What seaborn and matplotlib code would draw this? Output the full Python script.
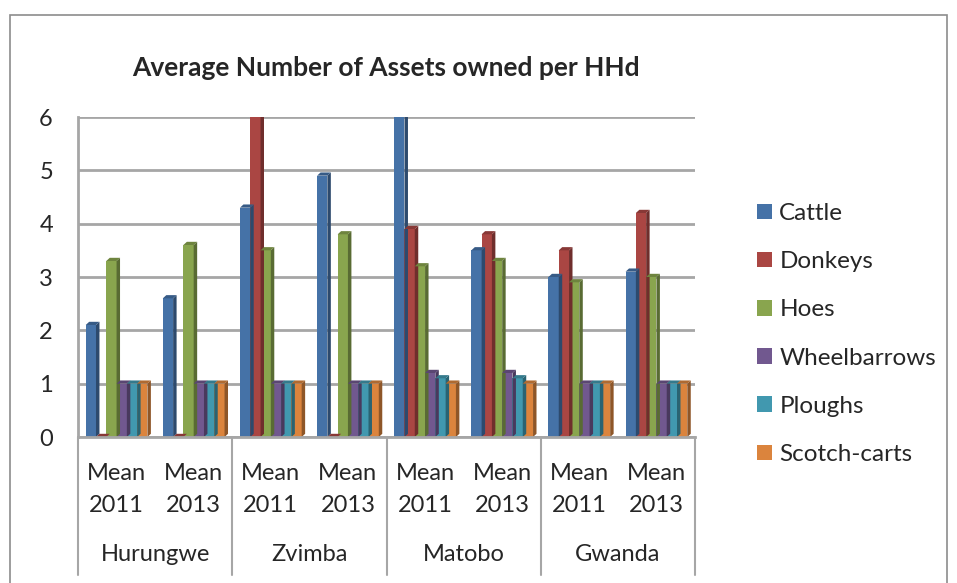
import numpy as np
import pandas as pd
import seaborn as sns
import matplotlib.pyplot as plt
from matplotlib.patches import Polygon, Rectangle
from matplotlib.transforms import blended_transform_factory

# data
districts = ['Hurungwe', 'Zvimba', 'Matobo', 'Gwanda']
periods = ['Mean\n2011', 'Mean\n2013']
assets = ['Cattle', 'Donkeys', 'Hoes', 'Wheelbarrows', 'Ploughs', 'Scotch-carts']
cattle = [2.1, 2.6, 4.3, 4.9, 6.0, 3.5, 3.0, 3.1]
donkeys = [0.0, 0.0, 6.0, 0.0, 3.9, 3.8, 3.5, 4.2]
hoes = [3.3, 3.6, 3.5, 3.8, 3.2, 3.3, 2.9, 3.0]
wheelbarrows = [1.0, 1.0, 1.0, 1.0, 1.2, 1.2, 1.0, 1.0]
ploughs = [1.0, 1.0, 1.0, 1.0, 1.1, 1.1, 1.0, 1.0]
scotch_carts = [1.0, 1.0, 1.0, 1.0, 1.0, 1.0, 1.0, 1.0]

colors = ['#4572A7', '#AA4643', '#89A54E', '#71588F', '#4198AF', '#DB843D']

cats = [f'{d}|{p}' for d in districts for p in periods]
series = [cattle, donkeys, hoes, wheelbarrows, ploughs, scotch_carts]
rows = []
for name, vals in zip(assets, series):
    for c, v in zip(cats, vals):
        rows.append({'cat': c, 'asset': name, 'value': v})
df = pd.DataFrame(rows)

sns.set_style('white')
plt.rcParams['font.family'] = ['Lato', 'DejaVu Sans']

fig = plt.figure(figsize=(9.57, 5.83), dpi=100)
ax = fig.add_axes([78 / 957, 146 / 583, 617 / 957, 320 / 583])

sns.barplot(data=df, x='cat', y='value', hue='asset', order=cats,
            hue_order=assets, palette=colors, saturation=1, width=0.8,
            edgecolor='none', ax=ax, legend=True)

# fake 3D: darker side and top faces
dx, dy = 0.045, 0.06
for patch in ax.patches:
    x0 = patch.get_x()
    w = patch.get_width()
    h = patch.get_height()
    if np.isnan(h):
        continue
    fc = np.array(patch.get_facecolor())
    dark = fc.copy()
    dark[:3] = dark[:3] * 0.65
    mid = fc.copy()
    mid[:3] = mid[:3] * 0.8
    x1 = x0 + w
    side = Polygon([(x1, 0), (x1 + dx, dy), (x1 + dx, h + dy), (x1, h)],
                   closed=True, facecolor=dark, edgecolor='none', zorder=2)
    top = Polygon([(x0, h), (x0 + dx, h + dy), (x1 + dx, h + dy), (x1, h)],
                  closed=True, facecolor=mid, edgecolor='none', zorder=2)
    ax.add_patch(side)
    ax.add_patch(top)

ax.set_ylim(0, 6)
ax.set_xlim(-0.5, len(cats) - 0.5)
ax.set_yticks(range(0, 7))
ax.yaxis.grid(True, color='#A6A6A6', linewidth=2)
ax.set_axisbelow(True)
for s in ['top', 'right']:
    ax.spines[s].set_visible(False)
ax.spines['left'].set_color('#A6A6A6')
ax.spines['left'].set_linewidth(2)
ax.spines['bottom'].set_color('#A6A6A6')
ax.spines['bottom'].set_linewidth(2)
ax.set_xlabel('')
ax.set_ylabel('')
ax.set_xticks(range(len(cats)))
ax.set_xticklabels([p for d in districts for p in periods], fontsize=17,
                   linespacing=1.65)
ax.tick_params(axis='x', length=0, pad=19)
ax.tick_params(axis='y', length=0, pad=18, labelsize=17)

tr = blended_transform_factory(ax.transData, ax.transAxes)
for i in range(len(districts) + 1):
    ax.plot([2 * i - 0.5, 2 * i - 0.5], [0, -0.43], transform=tr,
            color='#A6A6A6', linewidth=1.5, clip_on=False)
for i, d in enumerate(districts):
    ax.text(2 * i + 0.5, -0.366, d, transform=tr, ha='center', va='center',
            fontsize=17)

handles, labels = ax.get_legend_handles_labels()
ax.get_legend().remove()
fig.legend(handles, labels, loc='center left',
           bbox_to_anchor=(757 / 957, 1 - 334 / 583), frameon=False,
           fontsize=17.5, handlelength=0.62, handleheight=0.62,
           handletextpad=0.3, labelspacing=1.12, borderpad=0,
           borderaxespad=0)

fig.text(386 / 957, 1 - 68 / 583, 'Average Number of Assets owned per HHd',
         ha='center', va='center', fontsize=19, fontweight='bold')

fig.patches.append(Rectangle((10 / 957, -0.05), 937 / 957, 0.05 + 1 - 15 / 583,
                             transform=fig.transFigure, fill=False,
                             edgecolor='#8C8C8C', linewidth=1.2))

fig.savefig('out.png', dpi=100)
